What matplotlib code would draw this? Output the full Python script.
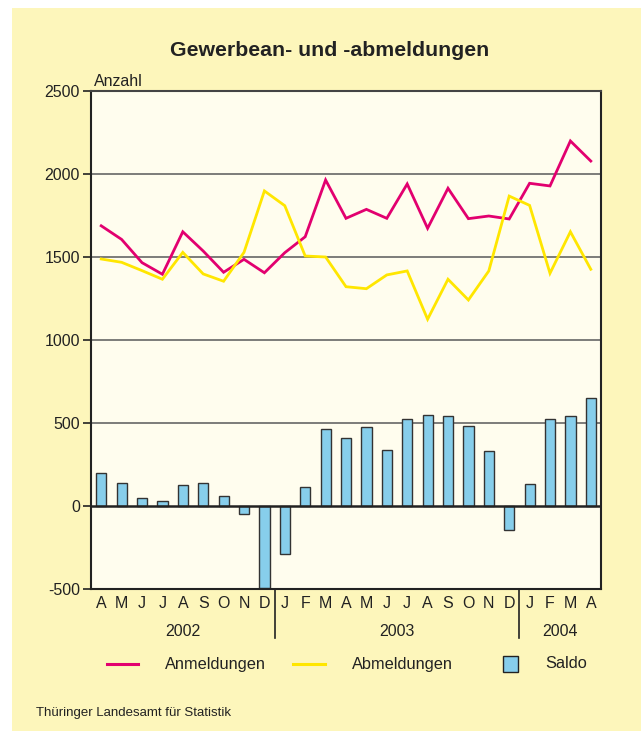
import matplotlib

matplotlib.use("Agg")
import matplotlib.pyplot as plt
from matplotlib.patches import Rectangle
from matplotlib.lines import Line2D
import numpy as np

plt.rcParams["font.family"] = ["Liberation Sans", "DejaVu Sans"]

months = ["A", "M", "J", "J", "A", "S", "O", "N", "D",
          "J", "F", "M", "A", "M", "J", "J", "A", "S", "O", "N", "D",
          "J", "F", "M", "A"]
years = ["2002", "2003", "2004"]
year_spans = [(0, 8), (9, 20), (21, 24)]

anmeldungen = [1688, 1606, 1466, 1396, 1652, 1536, 1408, 1486, 1405,
               1526, 1622, 1964, 1733, 1787, 1733, 1940, 1673, 1914, 1731, 1747, 1729,
               1944, 1928, 2199, 2078]
abmeldungen = [1488, 1468, 1418, 1366, 1528, 1398, 1354, 1528, 1898,
               1809, 1506, 1500, 1321, 1309, 1392, 1416, 1125, 1366, 1241, 1416, 1867,
               1811, 1402, 1652, 1426]
saldo = [199, 138, 50, 28, 124, 140, 58, -48, -495,
         -287, 114, 466, 408, 476, 339, 526, 550, 544, 484, 329, -143,
         133, 526, 544, 650]

pink = "#E2006F"
yellow = "#FFE600"
blue = "#87CEEB"
outer_bg = "#FDF6BB"
inner_bg = "#FFFDEE"
dark = "#222222"

W, H = 641, 731
fig = plt.figure(figsize=(W / 100, H / 100), dpi=100, facecolor="white")
fig.patches.append(Rectangle((12 / W, 0), 1 - 12 / W, 1 - 8 / H, transform=fig.transFigure,
                             facecolor=outer_bg, edgecolor="none", zorder=-10))

ax = fig.add_axes([91 / W, (H - 589) / H, 510 / W, 498 / H])
ax.set_facecolor(inner_bg)
x = np.arange(len(months))

for yv in [500, 1000, 1500, 2000]:
    ax.axhline(yv, color="#666666", lw=1.2, zorder=1)

ax.bar(x, saldo, width=0.5, color=blue, edgecolor="#333333", linewidth=1.0, zorder=2)
ax.axhline(0, color=dark, lw=1.8, zorder=3)
ax.plot(x, anmeldungen, color=pink, lw=2.0, zorder=4, solid_joinstyle="miter")
ax.plot(x, abmeldungen, color=yellow, lw=2.0, zorder=4, solid_joinstyle="miter")

ax.set_xlim(-0.5, len(months) - 0.5)
ax.set_ylim(-500, 2500)
ax.set_yticks(range(-500, 2501, 500))
ax.set_yticklabels([str(v) for v in range(-500, 2501, 500)])
ax.tick_params(axis="y", length=6, width=1.2, color=dark, labelsize=11.5, labelcolor=dark, pad=2)
ax.set_xticks([])
for sp in ax.spines.values():
    sp.set_color(dark)
    sp.set_linewidth(1.5)
ax.spines["top"].set_color("#444444")

trans = ax.get_xaxis_transform()
for i, m in enumerate(months):
    ax.text(i, -0.030, m, transform=trans, ha="center", va="center", fontsize=11.5, color=dark)
for label, (a, b) in zip(years, year_spans):
    ax.text((a + b) / 2, -0.086, label, transform=trans, ha="center", va="center",
            fontsize=11.5, color=dark)
for sep in [8.5, 20.5]:
    ax.add_line(Line2D([sep, sep], [0, -0.098], transform=trans, color=dark, lw=1.2,
                       clip_on=False))

ax.text(0.005, 1.004, "Anzahl", transform=ax.transAxes, ha="left", va="bottom",
        fontsize=11.5, color=dark)
fig.text(330 / W, 1 - 51 / H, "Gewerbean- und -abmeldungen", ha="center", va="center",
         fontsize=15.3, fontweight="bold", color=dark)

# legend
ly = 1 - 664 / H
fig.add_artist(Line2D([107 / W, 138 / W], [ly, ly], color=pink, lw=2.2))
fig.text(165 / W, ly, "Anmeldungen", ha="left", va="center", fontsize=11.8, color=dark)
fig.add_artist(Line2D([293 / W, 325 / W], [ly, ly], color=yellow, lw=2.2))
fig.text(352 / W, ly, "Abmeldungen", ha="left", va="center", fontsize=11.8, color=dark)
fig.patches.append(Rectangle((503 / W, ly - 8 / H), 15 / W, 16 / H, transform=fig.transFigure,
                             facecolor=blue, edgecolor=dark, lw=1.0))
fig.text(545 / W, ly, "Saldo", ha="left", va="center", fontsize=11.8, color=dark)

fig.text(36 / W, 1 - 713 / H, "Thüringer Landesamt für Statistik", ha="left", va="center",
         fontsize=9.5, color=dark)

fig.savefig("out.png", dpi=100, facecolor=fig.get_facecolor())
